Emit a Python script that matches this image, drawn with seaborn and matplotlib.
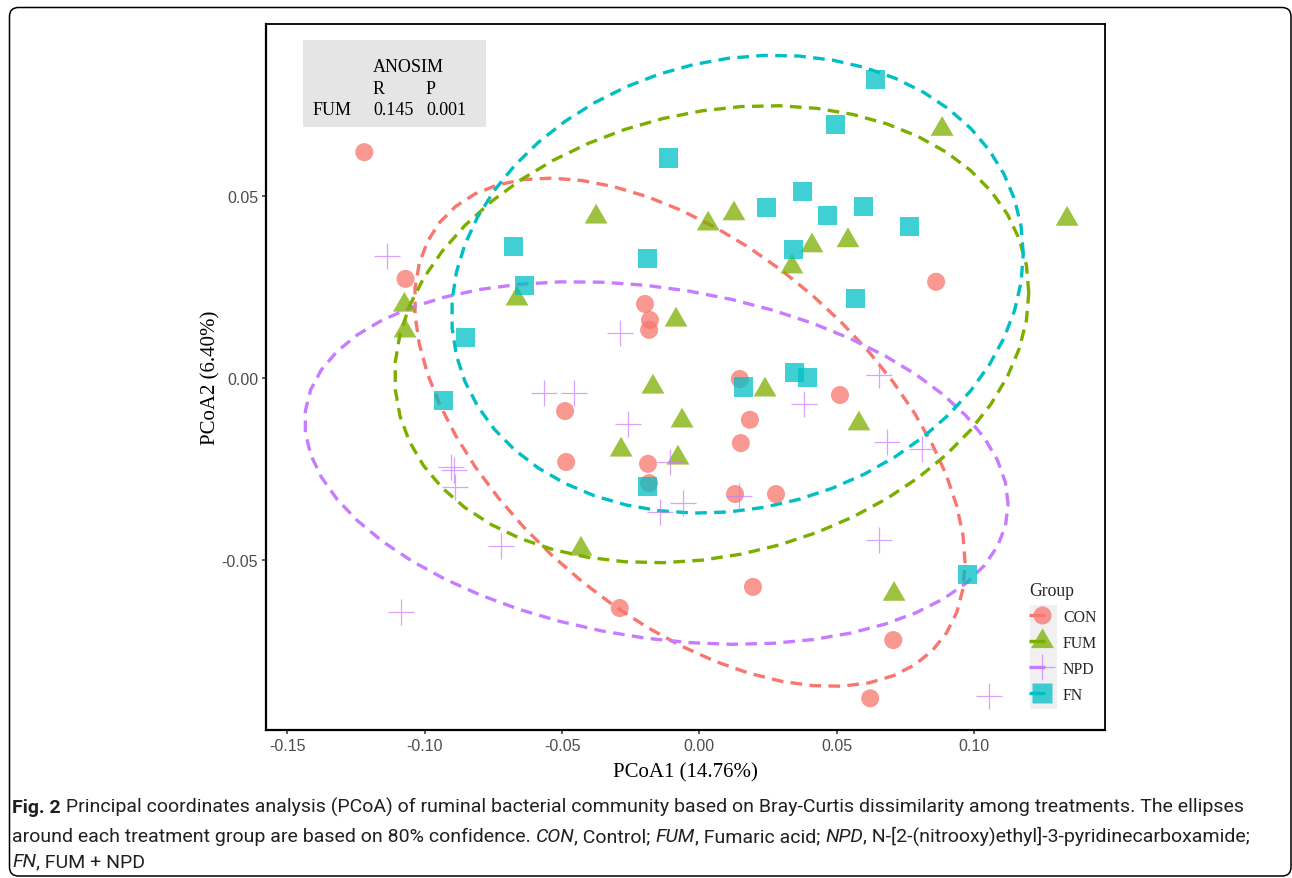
import numpy as np
import pandas as pd
import matplotlib
matplotlib.use("Agg")
import matplotlib.pyplot as plt
import seaborn as sns
from matplotlib.lines import Line2D
from matplotlib.markers import MarkerStyle
from matplotlib.patches import FancyBboxPatch, Rectangle
from matplotlib.transforms import IdentityTransform
from matplotlib.ticker import FixedLocator, FormatStrFormatter

# ---------------- data ----------------
groups = ["CON", "FUM", "NPD", "FN"]

con_x = [-0.1220, -0.1070, -0.0198, -0.0180, -0.0183, -0.0489, -0.0485, -0.0187, -0.0183, 0.0147,
         0.0151, 0.0184, 0.0130, 0.0279, 0.0512, 0.0862, 0.0195, -0.0290, 0.0706, 0.0622]
con_y = [0.0621, 0.0273, 0.0204, 0.0160, 0.0133, -0.0090, -0.0230, -0.0235, -0.0288, -0.0002,
         -0.0178, -0.0114, -0.0318, -0.0318, -0.0046, 0.0265, -0.0573, -0.0631, -0.0719, -0.0879]

fum_x = [-0.1074, -0.1072, -0.0664, -0.0376, -0.0085, -0.0169, -0.0063, -0.0078, -0.0285, -0.0431,
         0.0032, 0.0126, 0.0239, 0.0337, 0.0410, 0.0541, 0.0581, 0.0884, 0.1339, 0.0709]
fum_y = [0.0201, 0.0130, 0.0218, 0.0443, 0.0160, -0.0024, -0.0117, -0.0219, -0.0197, -0.0469,
         0.0424, 0.0452, -0.0032, 0.0306, 0.0364, 0.0378, -0.0125, 0.0684, 0.0437, -0.0593]

npd_x = [-0.1137, -0.0289, -0.0566, -0.0456, -0.0260, -0.0904, -0.0893, -0.0890, -0.0722, -0.0107,
         -0.0143, -0.0059, 0.0145, 0.0381, 0.0654, 0.0683, 0.0811, 0.0654, -0.1086, 0.1055]
npd_y = [0.0336, 0.0124, -0.0040, -0.0040, -0.0125, -0.0243, -0.0252, -0.0299, -0.0461, -0.0230,
         -0.0367, -0.0343, -0.0324, -0.0071, 0.0009, -0.0175, -0.0194, -0.0444, -0.0642, -0.0873]

fn_x = [-0.0114, -0.0678, -0.0190, -0.0638, -0.0853, -0.0933, -0.0190, 0.0640, 0.0494, 0.0246,
        0.0377, 0.0465, 0.0596, 0.0764, 0.0341, 0.0567, 0.0159, 0.0348, 0.0395, 0.0975]
fn_y = [0.0605, 0.0363, 0.0328, 0.0256, 0.0111, -0.0060, -0.0296, 0.0820, 0.0696, 0.0470,
        0.0512, 0.0448, 0.0473, 0.0418, 0.0353, 0.0218, -0.0024, 0.0017, 0.0001, -0.0540]

x_ticks = [-0.15, -0.10, -0.05, 0.00, 0.05, 0.10]
y_ticks = [-0.05, 0.00, 0.05]
x_title = "PCoA1 (14.76%)"
y_title = "PCoA2 (6.40%)"

anosim_header = ["", "R", "P"]
anosim_row = ["FUM", "0.145", "0.001"]

caption_lines = [
    [("Fig. 2", "bold"), (" Principal coordinates analysis (PCoA) of ruminal bacterial community based on Bray-Curtis dissimilarity among treatments. The ellipses", "normal")],
    [("around each treatment group are based on 80% confidence. ", "normal"), ("CON", "italic"), (", Control; ", "normal"),
     ("FUM", "italic"), (", Fumaric acid; ", "normal"), ("NPD", "italic"),
     (", N-[2-(nitrooxy)ethyl]-3-pyridinecarboxamide;", "normal")],
    [("FN", "italic"), (", FUM + NPD", "normal")],
]

colors = {"CON": "#F8766D", "FUM": "#7CAE00", "NPD": "#C77CFF", "FN": "#00BFC4"}

df = pd.DataFrame({
    "x": con_x + fum_x + npd_x + fn_x,
    "y": con_y + fum_y + npd_y + fn_y,
    "Group": ["CON"] * len(con_x) + ["FUM"] * len(fum_x) + ["NPD"] * len(npd_x) + ["FN"] * len(fn_x),
})

# ---------------- helpers ----------------
def ellipse_pts(xv, yv, level=0.8, segments=51):
    pts = np.column_stack([xv, yv])
    center = pts.mean(0)
    shape = np.cov(pts.T)          # stats::cov.wt (type = "norm")
    dfd = len(xv) - 1
    fq = (dfd / 2.0) * ((1 - level) ** (-2.0 / dfd) - 1)   # qf(level, 2, dfd)
    radius = np.sqrt(2 * fq)
    ang = np.linspace(0, 2 * np.pi, segments + 1)
    circ = np.column_stack([np.cos(ang), np.sin(ang)])
    L = np.linalg.cholesky(shape)
    return center + radius * circ @ L.T

# ---------------- figure ----------------
sns.set_theme(style="white")
plt.rcParams["axes.unicode_minus"] = False

W, H = 1292, 879
fig = plt.figure(figsize=(W / 100, H / 100), dpi=100)
L_, R_, T_, B_ = 266, 1105, 25, 731
ax = fig.add_axes([L_ / W, (H - B_) / H, (R_ - L_) / W, (B_ - T_) / H])
ax.set_facecolor("white")
px = IdentityTransform()
def P(x, y):
    return x, H - y

lw_ell = 2.4
dash = (0, (3.5, 2.2))
for g in groups:
    sub = df[df.Group == g]
    e = ellipse_pts(sub.x.values, sub.y.values)
    ax.plot(e[:, 0], e[:, 1], color=colors[g], lw=lw_ell, linestyle=dash,
            dash_capstyle="butt", zorder=2)

tri = MarkerStyle([(0, 1.5551), (1.3468, -0.7776), (-1.3468, -0.7776)])
mk = {"CON": "o", "FUM": tri, "NPD": "+", "FN": "s"}
ms = {"CON": 13.0, "FUM": 19.0, "NPD": 19.4, "FN": 13.7}

for g in groups:
    sub = df[df.Group == g]
    if g == "NPD":
        sns.scatterplot(data=sub, x="x", y="y", ax=ax, marker="+", color=colors[g],
                        s=ms[g] ** 2, alpha=0.7, linewidth=0.9, legend=False, zorder=3)
    else:
        sns.scatterplot(data=sub, x="x", y="y", ax=ax, marker=mk[g], color=colors[g],
                        s=ms[g] ** 2, alpha=0.75, linewidth=0, edgecolor="none",
                        legend=False, zorder=3)

ax.set_xlim(-0.1578, 0.1477)
ax.set_ylim(-0.0966, 0.0973)
ax.xaxis.set_major_locator(FixedLocator(x_ticks))
ax.yaxis.set_major_locator(FixedLocator(y_ticks))
ax.xaxis.set_major_formatter(FormatStrFormatter("%.2f"))
ax.yaxis.set_major_formatter(FormatStrFormatter("%.2f"))
ax.tick_params(axis="both", which="major", length=3.2, width=1.1, color="#333333",
               labelcolor="#4D4D4D", labelsize=11.5, pad=2.5, bottom=True, left=True)
for lab in ax.get_xticklabels() + ax.get_yticklabels():
    lab.set_fontfamily("Liberation Sans")
for s in ax.spines.values():
    s.set_color("black")
    s.set_linewidth(1.3)
ax.spines["left"].set_linewidth(1.6)
ax.spines["bottom"].set_linewidth(1.6)
ax.grid(False)
ax.set_xlabel(x_title, family="Liberation Serif", fontsize=15, color="black", labelpad=7)
ax.set_ylabel(y_title, family="Liberation Serif", fontsize=15, color="black", labelpad=1)

# ANOSIM table
fig.patches.append(Rectangle(P(303, 128), 183, 87, transform=px, facecolor="#E5E5E5",
                             edgecolor="none", zorder=5))
tk = dict(transform=px, family="Liberation Serif", fontsize=13, color="black", va="center", zorder=6)
fig.text(*P(373, 68), "ANOSIM", ha="left", **tk)
col_x = [313, 373, 426]
for cx, t in zip(col_x, anosim_header):
    fig.text(*P(cx, 90), t, ha="left", **tk)
for cx, t in zip(col_x, anosim_row):
    fig.text(*P(cx, 111), t, ha="left", **tk)

# Legend
handles = []
for g in groups:
    rgb = matplotlib.colors.to_rgb(colors[g])
    if g == "NPD":
        h = Line2D([], [], color=colors[g], lw=lw_ell, linestyle=(0, (4.8, 4)),
                   marker="+", markersize=ms[g], markeredgecolor=rgb + (0.7,), markeredgewidth=0.9)
    else:
        h = Line2D([], [], color=colors[g], lw=lw_ell, linestyle=(0, (4.8, 4)),
                   marker=mk[g], markersize=ms[g], markerfacecolor=rgb + (0.75,),
                   markeredgecolor="none")
    handles.append(h)
ax.add_patch(Rectangle(P(1030, 710), 27, 104, transform=px, facecolor="#F0F0F0",
                       edgecolor="none", zorder=4, clip_on=False))
leg = ax.legend(handles, groups, title="Group", loc="upper left",
                bbox_to_anchor=(1029 / W, (H - 583) / H), bbox_transform=fig.transFigure,
                frameon=False, prop={"family": "Liberation Serif", "size": 11.4},
                title_fontproperties={"family": "Liberation Serif", "size": 12.7},
                handlelength=1.7, handletextpad=0.45, labelspacing=0.63,
                borderpad=0, borderaxespad=0, alignment="left")
leg.set_zorder(7)

# outer rounded frame
fig.patches.append(FancyBboxPatch((9.5, H - 877), 1291 - 9.5, 877 - 8.5, transform=px,
                                  boxstyle="round,pad=0,rounding_size=9", facecolor="none",
                                  edgecolor="black", lw=1.1, zorder=0))

# caption
fig.canvas.draw()
renderer = fig.canvas.get_renderer()
cap_family = ["Roboto"]

def style_kw(style, size):
    kw = dict(family=cap_family, fontsize=size, transform=px)
    if style == "bold":
        kw["fontweight"] = "bold"
    if style == "italic":
        kw["fontstyle"] = "italic"
    return kw

def width_of(txt, style, size):
    kw = style_kw(style, size)
    t1 = fig.text(0, 0, "|" + txt + "|", **kw)
    t2 = fig.text(0, 0, "||", **kw)
    w = t1.get_window_extent(renderer).width - t2.get_window_extent(renderer).width
    t1.remove(); t2.remove()
    return w

base = 12.0
w1 = sum(width_of(t, s, base) for t, s in caption_lines[0])
cap_size = base * (1221.0 / w1)
baselines = [813, 842, 867]
for line, yb in zip(caption_lines, baselines):
    x = 12.0
    for txt, style in line:
        kw = style_kw(style, cap_size)
        fig.text(x, H - yb, txt, va="baseline", ha="left", color="#231F20", **kw)
        x += width_of(txt, style, cap_size)

fig.savefig("out.png", dpi=100)
